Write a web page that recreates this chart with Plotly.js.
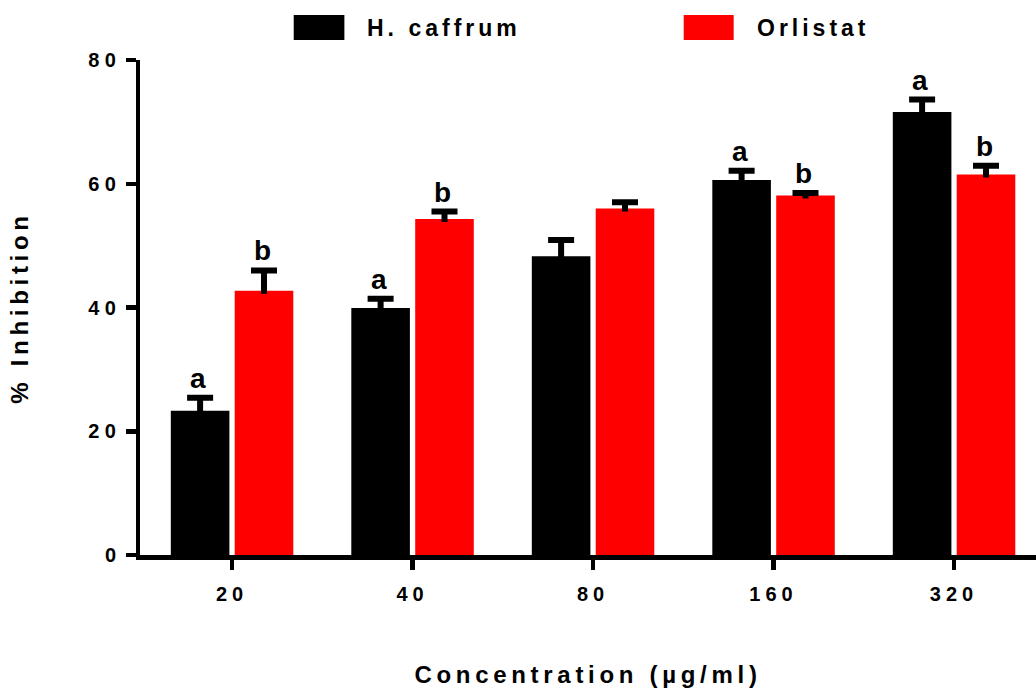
<!DOCTYPE html>
<html><head><meta charset="utf-8">
<script src="https://cdn.plot.ly/plotly-3.0.1.min.js"></script>
<style>
html,body{margin:0;padding:0;background:#fff;}
#chart{width:1036px;height:690px;}
.xtick text{letter-spacing:5px;}
.ytick text{letter-spacing:5.5px;}
.xtitle,.ytitle{letter-spacing:4.7px;}
.annotation-text{letter-spacing:4px;}
</style></head><body><div id="chart"></div>
<script>
// ---- data ----
const categories = ['20', '40', '80', '160', '320'];
const hcaffrumMean = [23.3, 39.9, 48.3, 60.6, 71.6];
const hcaffrumErr = [2.1, 1.5, 2.6, 1.5, 2.0];
const orlistatMean = [42.7, 54.3, 56.0, 58.1, 61.5];
const orlistatErr = [3.3, 1.2, 1.0, 0.4, 1.4];
const hcaffrumLetters = ['a', 'a', '', 'a', 'a'];
const orlistatLetters = ['b', 'b', '', 'b', 'b'];
const seriesNames = ['H. caffrum', 'Orlistat'];
const seriesColors = ['#000000', '#ff0000'];
const yTicks = [0, 20, 40, 60, 80];
const xTitle = 'Concentration (µg/ml)';
const yTitle = '% Inhibition';

// ---- layout settings ----
const W = 1036, H = 690;
const M = {l: 139.5, r: 0, t: 60, b: 134.5};
const FONT = '"Liberation Sans", Arial, sans-serif';
const bargap = 0.292, bargroupgap = 0.083;
const px2x = p => (p - M.l) / (W - M.l - M.r);
const px2y = p => (H - M.b - p) / (H - M.t - M.b);

function errTrace(name, mean, err, color) {
  return {
    type: 'bar', name: name, x: categories, y: mean,
    marker: {color: color, line: {width: 0}},
    error_y: {type: 'data', symmetric: false, array: err,
              arrayminus: err.map(() => 0), color: '#000', thickness: 6, width: 13},
    hoverinfo: 'x+y', showlegend: false
  };
}
const traces = [
  errTrace(seriesNames[0], hcaffrumMean, hcaffrumErr, seriesColors[0]),
  errTrace(seriesNames[1], orlistatMean, orlistatErr, seriesColors[1])
];

const off = (1 - bargap) / 4;
const annotations = [];
function addLetters(letters, mean, err, sign) {
  letters.forEach((t, i) => {
    if (!t) return;
    annotations.push({
      x: i + sign * off, y: mean[i] + err[i], xref: 'x', yref: 'y',
      text: t, showarrow: false, xanchor: 'center', yanchor: 'bottom', yshift: 2,
      font: {family: FONT, size: 28, color: '#000', weight: 'bold'}
    });
  });
}
addLetters(hcaffrumLetters, hcaffrumMean, hcaffrumErr, -1);
addLetters(orlistatLetters, orlistatMean, orlistatErr, 1);

// manual legend
const legendItems = [
  {sx0: 293.3, sx1: 344, tx: 365},
  {sx0: 683.5, sx1: 733.5, tx: 755}
];
const shapes = [];
legendItems.forEach((it, k) => {
  shapes.push({type: 'rect', xref: 'paper', yref: 'paper',
    x0: px2x(it.sx0), x1: px2x(it.sx1), y0: px2y(40), y1: px2y(15),
    fillcolor: seriesColors[k], line: {width: 0}});
  annotations.push({xref: 'paper', yref: 'paper', x: px2x(it.tx), y: px2y(28),
    xanchor: 'left', yanchor: 'middle', showarrow: false, text: seriesNames[k],
    font: {family: FONT, size: 23, color: '#000', weight: 'bold'}});
});

const layout = {
  width: W, height: H, margin: M,
  paper_bgcolor: '#fff', plot_bgcolor: '#fff',
  font: {family: FONT, color: '#000', weight: 'bold'},
  barmode: 'group', bargap: bargap, bargroupgap: bargroupgap,
  showlegend: false,
  xaxis: {
    type: 'category', range: [-0.51, 4.454], fixedrange: true,
    showline: true, linecolor: '#000', linewidth: 4.5,
    ticks: 'outside', ticklen: 10, tickwidth: 4.5, tickcolor: '#000',
    ticklabelstandoff: 7,
    tickfont: {family: FONT, size: 20, color: '#000', weight: 'bold'},
    showgrid: false, zeroline: false,
    title: {text: xTitle, standoff: 64, font: {family: FONT, size: 24, color: '#000', weight: 'bold'}}
  },
  yaxis: {
    range: [0, 80], tickvals: yTicks, fixedrange: true,
    showline: true, linecolor: '#000', linewidth: 4.5,
    ticks: 'outside', ticklen: 10, tickwidth: 4.5, tickcolor: '#000',
    tickfont: {family: FONT, size: 20, color: '#000', weight: 'bold'},
    showgrid: false, zeroline: false,
    title: {text: yTitle, standoff: 54, font: {family: FONT, size: 24, color: '#000', weight: 'bold'}}
  },
  shapes: shapes,
  annotations: annotations
};

Plotly.newPlot('chart', traces, layout, {displayModeBar: false, staticPlot: true}).then(() => {
  // one-sided (upper) error bars: drop the lower cross-bar, let the stem reach slightly into the bar
  document.querySelectorAll('.errorbar path').forEach(p => {
    const d = p.getAttribute('d') || '';
    p.setAttribute('d', d.replace(/V([\d.eE+-]+)m-[\d.eE+-]+,0h[\d.eE+-]+$/, (m, ys) => 'V' + (parseFloat(ys) + 3)));
  });
});
</script></body></html>
